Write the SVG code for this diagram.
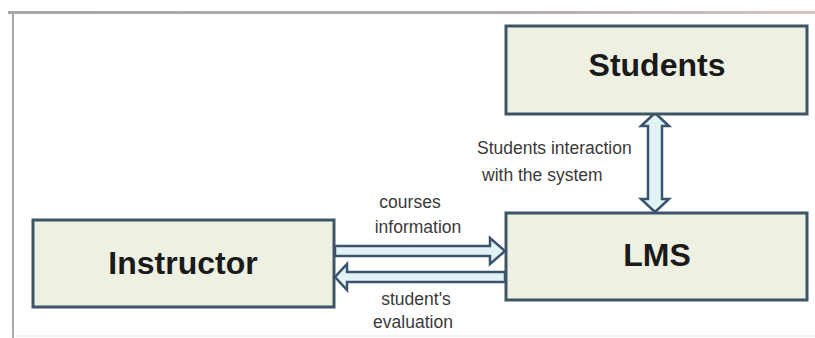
<svg xmlns="http://www.w3.org/2000/svg" width="815" height="338" viewBox="0 0 815 338">
<defs>
<linearGradient id="topline" gradientUnits="userSpaceOnUse" x1="8" y1="0" x2="815" y2="0">
<stop offset="0" stop-color="#a8a8a8"/>
<stop offset="0.6" stop-color="#b0aaaa"/>
<stop offset="1" stop-color="#d8c4c4"/>
</linearGradient>
</defs>
<style>
.box{fill:#eef1e1;stroke:#3d5566;stroke-width:3}
.big{font-family:"Liberation Sans",Arial,sans-serif;font-weight:bold;font-size:32px;fill:#1a1a1a;text-anchor:middle}
.small{font-family:"Liberation Sans",Arial,sans-serif;font-size:17.5px;fill:#3a3a3a}
.arrow{fill:#e2f3f6;stroke:#3a5470;stroke-width:2.5;stroke-linejoin:miter}
</style>
<rect x="0" y="0" width="815" height="338" fill="#ffffff"/>
<rect x="8" y="11" width="807" height="3" fill="url(#topline)"/>
<line x1="13" y1="12" x2="13" y2="338" stroke="#a8a8a8" stroke-width="2"/>
<line x1="13" y1="336" x2="815" y2="336" stroke="#e4e4e4" stroke-width="1"/>
<g id="connectors">
<polygon class="arrow" points="335,246 490,246 490,238 505,251 490,264 490,256 335,256"/>
<polygon class="arrow" points="505,272 347,272 347,264 335,277 347,290 347,282 505,282"/>
<polygon class="arrow" points="655,113 669,126 662,126 662,199 669,199 655,212 641,199 648,199 648,126 641,126"/>
<text class="small" x="410" y="208" text-anchor="middle">courses</text>
<text class="small" x="418" y="233" text-anchor="middle">information</text>
<text class="small" x="416" y="305" text-anchor="middle">student's</text>
<text class="small" x="413" y="328" text-anchor="middle">evaluation</text>
<text class="small" x="477" y="154">Students interaction</text>
<text class="small" x="482" y="181">with the system</text>
</g>
<g id="students">
<rect class="box" x="506" y="26" width="301" height="88"/>
<text class="big" x="657" y="76">Students</text>
</g>
<g id="lms">
<rect class="box" x="506" y="213" width="301" height="87"/>
<text class="big" x="657" y="266">LMS</text>
</g>
<g id="instructor">
<rect class="box" x="33" y="220" width="301" height="87"/>
<text class="big" x="183" y="274">Instructor</text>
</g>
</svg>
